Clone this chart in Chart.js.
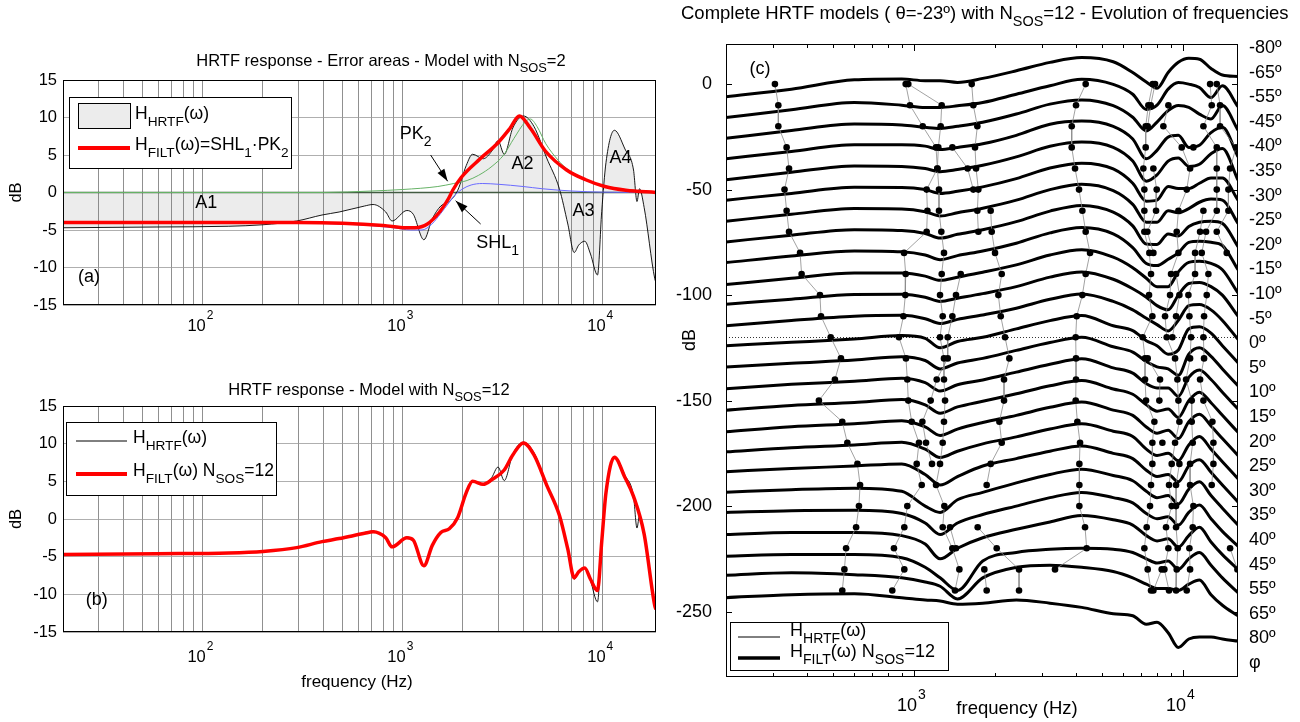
<!DOCTYPE html>
<html>
<head>
<meta charset="utf-8">
<title>HRTF models</title>
<script src="https://cdn.jsdelivr.net/npm/chart.js@4.4.1/dist/chart.umd.min.js"></script>
<style>
  html, body { margin: 0; padding: 0; background: #fff; }
  #wrap { position: relative; width: 1300px; height: 722px; overflow: hidden; }
  canvas { position: absolute; left: 0; top: 0; }
</style>
</head>
<body>
<div id="wrap">
  <canvas id="chartA" width="1300" height="722"></canvas>
  <canvas id="chartB" width="1300" height="722"></canvas>
  <canvas id="chartC" width="1300" height="722"></canvas>
</div>
<script>
const FONT = "'Liberation Sans', Arial, Helvetica, sans-serif";

// ---------- panels (a) and (b): measured HRTF and filter models ----------
const hrtfFreq = [20, 59, 135, 200, 295, 395, 481, 645, 711, 823, 885, 1050, 1130, 1277, 1407, 1552, 1711, 1886, 2080, 2238,
  2529, 2788, 2999, 3222, 3555, 4018, 4539, 5252, 6080, 6700, 7211, 7600, 8147, 8700, 9431, 9903, 10400, 11460, 12940, 14280,
  14860, 15300, 16140, 18240, 18500];
const hrtfDb = [-4.7, -4.6, -4.5, -4.3, -3.8, -3.0, -2.6, -1.8, -1.6, -2.6, -3.8, -2.4, -2.9, -6.3, -3.5, -1.8, -1.2, 0.3, 3.6, 5.1,
  4.5, 5.5, 6.9, 5.1, 8.6, 10.2, 8.8, 4.6, 0.5, -4.2, -8, -7, -6.5, -8.2, -11, -2.5, 4, 8.3, 5.8, 3,
  -1.2, 0.5, -2, -11.5, -12];

// (a) H_FILT = SHL1 * PK2, and its two sections
const filtAFreq = [20, 300, 500, 800, 1042, 1150, 1330, 1540, 1696, 1780, 1962, 2442, 2966, 3430, 3835, 4373, 5185, 6610, 8235, 10250, 13070, 18500];
const filtADb = [-4, -4.0, -4.1, -4.4, -4.7, -4.7, -4.2, -2.5, -0.8, 0.3, 2.0, 4.5, 6.5, 8.5, 10.2, 8.5, 5.5, 3.0, 1.7, 0.8, 0.3, 0];
const pkFreq = [20, 400, 700, 1000, 1500, 1800, 2100, 2400, 2800, 3200, 3600, 4100, 4350, 4700, 5200, 6000, 6600, 8200, 10000, 13000, 18500];
const pkDb = [0, 0, 0.2, 0.4, 0.8, 1.2, 1.6, 2.3, 3.5, 5, 7.2, 9.4, 9.8, 8.8, 6.5, 4.3, 3.2, 1.8, 0.9, 0.4, 0.1];
const shlFreq = [20, 300, 600, 900, 1100, 1250, 1400, 1550, 1700, 1850, 2000, 2200, 2500, 3000, 4000, 5000, 7000, 10000, 18500];
const shlDb = [-4.05, -4.1, -4.3, -4.7, -5.0, -5.0, -4.2, -2.8, -1.4, -0.2, 0.5, 1.0, 1.2, 1.1, 0.8, 0.5, 0.2, 0.05, 0];

// (b) H_FILT with N_SOS = 12
const filtBFreq = [20, 59, 135, 200, 295, 395, 481, 645, 711, 823, 885, 1050, 1130, 1277, 1407, 1552, 1711, 1886, 2080, 2238,
  2529, 2788, 3222, 3555, 4018, 4539, 5252, 6080, 6700, 7211, 7600, 8147, 8700, 9431, 9903, 10400, 11460, 12940, 14280, 16140,
  18240, 18500];
const filtBDb = [-4.7, -4.6, -4.5, -4.3, -3.8, -3.0, -2.6, -1.9, -1.7, -2.5, -3.7, -2.5, -2.8, -6.2, -3.5, -1.8, -1.3, 0.2, 3.5, 5.0,
  4.6, 5.2, 6.5, 8.5, 10.1, 8.5, 4.5, 0.5, -4, -7.8, -7, -6.5, -8, -9.5, -3, 3.5, 8.2, 5.5, 3, -2,
  -11.5, -12];

const abGrid = [20, 30, 40, 50, 60, 70, 80, 90, 100, 200, 300, 400, 500, 600, 700, 800, 900, 1000, 2000, 3000, 4000, 5000, 6000, 7000, 8000, 9000, 10000];
const abDecades = [100, 1000, 10000];
const abDecadeExp = ['2', '3', '4'];
const abYTicks = [15, 10, 5, 0, -5, -10, -15];

// ---------- panel (c): 25 elevations, offset by 10 dB each ----------
const cFreq = [200, 350, 600, 900, 1100, 1250, 1450, 1800, 2400, 3200, 4200, 5500, 6500, 7300, 8000, 8800, 9600, 10500, 11500, 12700, 14000, 16000];
const c00 = [-6, -2.4, 2, 2.4, 1.6, 1.6, 0.8, 2.7, 6.3, 10.3, 12.6, 10.6, 5.5, 1, -2, 5.5, 10.3, 12.2, 11.8, 7.4, 4.3, 3.6];
const c01 = [-15.8, -12.2, -8.7, -10, -11.1, -11.1, -10.3, -8.7, -4.8, -0.8, 2.3, -0.1, -4.8, -12, -10, -2.4, 0.7, 0, -1.6, -6.4, -0.8, -10.7];
const c02 = [-25.7, -22, -18.9, -19.4, -20.5, -21, -20, -18.1, -14.2, -9.5, -7.5, -10.2, -15.7, -22.2, -18, -12.6, -10.2, -11, -14.2, -16.5, -10.2, -21.8];
const c03 = [-35.4, -31.9, -28.7, -28.7, -29.4, -31, -30, -28.3, -24.3, -19, -17.5, -20, -26, -35.4, -31.4, -25.1, -24.3, -30, -29, -23, -20.5, -34.4];
const c04 = [-45.3, -41.8, -38.8, -39, -40, -41.5, -40.5, -38.5, -34.5, -29.5, -27.5, -30, -36.5, -46, -43, -36.5, -35, -39, -38, -33, -30.5, -45.5];
const c05 = [-55, -51.8, -48.9, -49, -50, -51.8, -50.8, -48.7, -44.8, -39.8, -37.5, -40.2, -47, -55.5, -55, -48.5, -49.5, -49.5, -47, -44.5, -44.5, -55];
const c06 = [-65, -61.7, -59, -59.2, -60.5, -62.5, -61, -58.8, -55, -50, -47.5, -50.5, -57, -65.5, -65.5, -60, -61, -59, -56, -54.5, -55, -66];
const c07 = [-74.8, -71.6, -69, -69.4, -70.8, -73, -71.2, -69, -65.2, -60.2, -57.5, -60.7, -67.2, -75.8, -76, -71, -72, -67.5, -65.5, -65, -66, -77];
const c08 = [-84.6, -81.5, -79.1, -79.5, -81, -83.2, -81.3, -79.1, -75.4, -70.5, -68, -71, -77.5, -85, -86, -83, -80, -75, -74.5, -75, -76.5, -88];
const c09 = [-95, -92, -89.5, -89.5, -91, -93, -91.5, -89.2, -85.7, -81, -78.5, -82, -87, -92, -96, -96, -89, -84.5, -84, -85, -88, -99];
const c10 = [-104.3, -102, -99.7, -99.6, -101, -103, -101.5, -99.3, -96, -91.5, -89, -92.5, -97, -101, -105, -107, -100, -94.5, -94, -96, -100, -110];
const c11 = [-114.5, -112, -110, -109.6, -111.2, -113.5, -111.5, -109.4, -106.2, -102, -99.5, -103, -107, -111, -114, -117, -112, -105, -104.5, -107, -112, -121];
const c12 = [-124, -122.4, -120.8, -119.2, -120.5, -125, -122, -120, -116, -112.1, -109.7, -114.5, -116.8, -121.6, -124, -128, -126, -116, -115, -118, -124, -132];
const c13 = [-134.1, -132.3, -130.8, -129.2, -131, -135, -132.2, -130, -126.2, -122.5, -120, -124.5, -127, -131.5, -134, -135, -138, -128, -125, -129, -135, -143];
const c14 = [-144.4, -142.3, -140.8, -139.4, -141.5, -145.5, -142.5, -140.2, -136.5, -132.8, -130.2, -134.5, -137, -142, -144, -144, -148, -139, -135.5, -140, -146, -154];
const c15 = [-154.6, -152.3, -150.9, -149.5, -152, -156, -153, -150.3, -146.8, -143, -140.5, -144.5, -147, -152, -155, -154, -158, -150, -146, -151, -157, -165];
const c16 = [-164.8, -162.4, -161, -159.6, -162.5, -166.5, -163.5, -160.4, -157, -153.2, -150.7, -154.5, -157, -162.5, -165.5, -164, -168, -160, -156.5, -162, -168, -176];
const c17 = [-174.3, -172.3, -171, -169.7, -173, -177, -174, -170.5, -167.2, -163.5, -161, -164.5, -167, -173, -176, -175, -178.5, -171, -167, -173, -179, -187];
const c18 = [-183.7, -182.2, -181, -180, -185, -190, -186, -181, -177.5, -174, -171.5, -175, -177.5, -183, -186, -185, -188.5, -181, -178, -184, -190, -198];
const c19 = [-193.4, -192.2, -191.5, -193, -200, -203, -197, -193.5, -189, -185, -182.5, -185.5, -188, -193, -196, -195, -199, -192, -188.5, -195, -201, -209];
const c20 = [-203, -202.2, -202, -203.5, -208, -213.5, -208, -204, -200, -196, -193.5, -196, -198.5, -203.5, -206, -205, -209, -203, -199.5, -206, -212, -219];
const c21 = [-213.5, -212.5, -212.5, -214, -218, -225, -220, -215, -211, -207.5, -204.5, -206.5, -209, -214, -216.5, -215.5, -219.5, -214, -210, -217, -223, -230];
const c22 = [-223.8, -223, -223, -224.5, -229, -234, -240, -226, -222, -220.5, -220, -220.5, -222, -225, -227, -226, -230, -225, -222, -228, -234, -241];
const c23 = [-232.8, -231.6, -232.5, -234, -236, -238, -244, -234, -229, -228, -229, -231, -234, -237, -239, -239, -240, -237, -235, -242, -247, -252];
const c24 = [-243.4, -242, -241.5, -243.4, -244.5, -245, -246.5, -246, -244.5, -246, -248, -251, -252, -256, -255, -260, -267, -263, -262, -262, -263, -264];
const filtCurves = [c00, c01, c02, c03, c04, c05, c06, c07, c08, c09, c10, c11, c12, c13, c14, c15, c16, c17, c18, c19, c20, c21, c22, c23, c24];

// pole/zero frequency tracks: one frequency per elevation row (null = no marker)
const rowDb = [0, -10, -20, -30, -40, -50, -60, -70, -80, -90, -100, -110, -120, -130, -140, -150, -160, -170, -180, -190, -200, -210, -220, -230, -240];
const trackA = [304, 313, 313, 336, 343, 330, 336, 343, 377, 382, 447, 451, 490, 535, 508, 443, 541, 565, 616, 630, 624, 609, 559, 551, 541];
const trackB1 = [931, 966, 1077, 1207, 1221, 1114, 1121, 1114, 918, 931, 928, 913, 879, 933, 944, 952, 980, 1043, 1023, 1068, 944, 920, 842, 920, 830];
const trackB2 = [952, 1267, 1256, 1231, 1221, 1238, 1238, 1263, 1292, 1267, 1249, 1278, 1249, 1292, 1292, 1304, 1292, 1278, 1249, 1207, 1296, 1278, 1388, 1474, 1420];
const trackB3 = [null, null, null, 1388, 1582, 1661, null, null, null, 1491, 1432, 1388, 1334, 1334, 1214, 1153, 1074, 1108, 1166, null, null, 1361, 1432, null, null];
const trackC1 = [1638, 1661, 1719, 1685, 1700, 1734, 1719, 1734, null, null, null, null, null, null, null, null, null, null, null, null, null, null, null, null, null];
const trackC2 = [null, null, null, null, null, null, 1927, 1944, 2000, 2118, 2058, 2100, 2179, 2261, 2160, 2160, 2076, 2118, 1927, 1862, null, 1724, 2029, 2456, 2456];
const trackC3 = [null, null, null, null, null, null, null, null, null, null, null, null, null, null, null, null, null, null, null, null, null, null, null, 1825, 1862];
const trackD = [4345, 4000, 3855, 3855, 3966, 4104, 4223, 4345, 4510, 4345, 4223, 4023, 3989, 4000, 4000, 3989, 4046, 4140, 4116, 4116, 4116, 4321, 4382, 3342, null];
const trackE1 = [7711, 7430, 7262, 7262, 7117, 7179, 7179, 7179, 7493, 7601, 7472, 7689, 7077, 7220, 7220, 7282, 7822, 7689, 7689, 7601, 7536, 7324, 7179, 7387, 7601];
const trackE2 = [7866, 7580, 7387, null, 7755, 7979, 7934, 7366, 7755, null, null, null, null, 7387, 8210, 8163, null, 8376, null, null, null, null, null, 8328, 7755];
const trackF1 = [null, 8818, 8447, 9886, 10617, 10318, 9608, 9471, 9608, 9021, 8944, 8570, 8693, 9337, 9525, 9608, 9690, 9337, 9073, 8866, 9073, 8643, 8818, 8520, 8866];
const trackF2 = [null, null, null, null, null, null, null, null, null, 9417, 9690, 9417, 9125, null, null, null, null, null, 9690, 9417, 9417, 9417, 9552, 9471, 9417];
const trackG = [null, null, null, 10923, null, null, 11900, 11566, 11080, 11080, 10466, 10556, 10708, 10617, 10259, 10769, 10769, 10862, 10617, 10617, 10923, 10862, 10556, 10617, 10318];
const trackH = [12599, 12780, 11900, 13340, 13340, 13340, 13340, 12174, 11732, 12420, 12245, 11968, 11900, 11968, 11566, 11900, 12853, 12964, 12964, 12780, null, null, null, null, null];
const trackI = [13340, 13726, 13726, 15740, 14952, 14740, 14740, 13340, 14532, null, null, null, null, null, null, null, null, null, null, null, null, null, 14952, 15922, null];
const tracks = [trackA, trackB1, trackB2, trackB3, trackC1, trackC2, trackC3, trackD, trackE1, trackE2, trackF1, trackF2, trackG, trackH, trackI];

const elevLabels = ['-80º', '-65º', '-55º', '-45º', '-40º', '-35º', '-30º', '-25º', '-20º', '-15º', '-10º', '-5º', '0º',
  '5º', '10º', '15º', '20º', '25º', '30º', '35º', '40º', '45º', '55º', '65º', '80º', 'φ'];
const cGrid = [200, 300, 400, 500, 600, 700, 800, 900, 1000, 2000, 3000, 4000, 5000, 6000, 7000, 8000, 9000, 10000];
const cDecades = [1000, 10000];
const cDecadeExp = ['3', '4'];
const cYTicks = [0, -50, -100, -150, -200, -250];

// ---------- helpers ----------
const pts = (xs, ys) => xs.map((x, i) => ({ x, y: ys[i] }));

function richText(ctx, x, y, parts, size, align) {
  let w = 0;
  for (const p of parts) {
    ctx.font = (p.sub || p.sup ? size * 0.78 : size) + 'px ' + FONT;
    w += ctx.measureText(p.t).width;
  }
  let cx = align === 'center' ? x - w / 2 : align === 'right' ? x - w : x;
  ctx.textAlign = 'left';
  ctx.textBaseline = 'middle';
  for (const p of parts) {
    const s = p.sub || p.sup ? size * 0.78 : size;
    ctx.font = s + 'px ' + FONT;
    const dy = p.sub ? size * 0.45 : p.sup ? -size * 0.5 : 0;
    ctx.fillText(p.t, cx, y + dy);
    cx += ctx.measureText(p.t).width;
  }
}

function decadeLabel(ctx, tickX, y, exp, size) {
  ctx.font = size + 'px ' + FONT;
  ctx.textAlign = 'right';
  ctx.textBaseline = 'middle';
  ctx.fillText('10', tickX + 3, y);
  ctx.font = Math.round(size * 0.75) + 'px ' + FONT;
  ctx.textAlign = 'left';
  ctx.fillText(exp, tickX + 4, y - size * 0.6);
}

function arrow(ctx, x1, y1, x2, y2) {
  const ang = Math.atan2(y2 - y1, x2 - x1);
  ctx.beginPath();
  ctx.moveTo(x1, y1);
  ctx.lineTo(x2, y2);
  ctx.stroke();
  ctx.beginPath();
  ctx.moveTo(x2, y2);
  ctx.lineTo(x2 - 13 * Math.cos(ang - 0.32), y2 - 13 * Math.sin(ang - 0.32));
  ctx.lineTo(x2 - 13 * Math.cos(ang + 0.32), y2 - 13 * Math.sin(ang + 0.32));
  ctx.closePath();
  ctx.fill();
}

function frameAB(chart, cfg) {
  const { ctx, chartArea: a, scales: { x, y } } = chart;
  ctx.save();
  ctx.strokeStyle = '#000';
  ctx.lineWidth = 1;
  ctx.strokeRect(a.left + 0.5, a.top + 0.5, a.right - a.left - 1, a.bottom - a.top - 1);
  ctx.fillStyle = '#000';
  ctx.font = '16.5px ' + FONT;
  ctx.textAlign = 'right';
  ctx.textBaseline = 'middle';
  abYTicks.forEach(v => ctx.fillText(String(v), a.left - 6, y.getPixelForValue(v)));
  abDecades.forEach((d, i) => decadeLabel(ctx, x.getPixelForValue(d), cfg.tickY, abDecadeExp[i], 16.5));
  ctx.save();
  ctx.translate(16, (a.top + a.bottom) / 2);
  ctx.rotate(-Math.PI / 2);
  ctx.font = '16.5px ' + FONT;
  ctx.textAlign = 'center';
  ctx.fillText('dB', 0, 0);
  ctx.restore();
  richText(ctx, cfg.titleX, cfg.titleY, cfg.title, 16.5, 'center');
  ctx.font = '18px ' + FONT;
  ctx.textAlign = 'center';
  ctx.fillText(cfg.tag, x.getPixelForValue(cfg.tagAt[0]), y.getPixelForValue(cfg.tagAt[1]));
  ctx.restore();
}

// ---------- chart (a) ----------
const decorA = {
  id: 'decorA',
  beforeDatasetsDraw(chart) {
    const { ctx, chartArea: a, scales: { y } } = chart;
    const y0 = y.getPixelForValue(0);
    ctx.save();
    ctx.strokeStyle = '#3f5a3f';
    ctx.lineWidth = 1.6;
    ctx.beginPath();
    ctx.moveTo(a.left, y0);
    ctx.lineTo(a.right, y0);
    ctx.stroke();
    ctx.restore();
  },
  afterDraw(chart) {
    const { ctx, scales: { x, y } } = chart;
    frameAB(chart, {
      tickY: 326, titleX: 381, titleY: 61, tag: '(a)', tagAt: [27, -11.3],
      title: [{ t: 'HRTF response - Error areas - Model with N' }, { t: 'SOS', sub: true }, { t: '=2' }]
    });
    ctx.save();
    ctx.fillStyle = '#000';
    ctx.strokeStyle = '#000';
    ctx.lineWidth = 1;
    ctx.font = '18px ' + FONT;
    ctx.textAlign = 'center';
    ctx.textBaseline = 'middle';
    [['A1', 104, -1.4], ['A2', 3980, 3.8], ['A3', 8035, -2.5], ['A4', 12300, 4.6]].forEach(([t, f, v]) =>
      ctx.fillText(t, x.getPixelForValue(f), y.getPixelForValue(v)));
    richText(ctx, x.getPixelForValue(1161), y.getPixelForValue(7.8), [{ t: 'PK' }, { t: '2', sub: true }], 18, 'center');
    richText(ctx, x.getPixelForValue(2985), y.getPixelForValue(-6.8), [{ t: 'SHL' }, { t: '1', sub: true }], 18, 'center');
    arrow(ctx, x.getPixelForValue(1380), y.getPixelForValue(5.0), x.getPixelForValue(1679), y.getPixelForValue(1.5));
    arrow(ctx, x.getPixelForValue(2455), y.getPixelForValue(-4.2), x.getPixelForValue(1841), y.getPixelForValue(-1.1));
    // legend
    ctx.fillStyle = '#fff';
    ctx.fillRect(69, 97, 222, 71);
    ctx.strokeRect(69.5, 97.5, 222, 71);
    ctx.fillStyle = '#ececec';
    ctx.fillRect(78, 103, 52, 25);
    ctx.strokeRect(78.5, 103.5, 52, 25);
    ctx.strokeStyle = '#ff0000';
    ctx.lineWidth = 4;
    ctx.beginPath();
    ctx.moveTo(78, 148);
    ctx.lineTo(130, 148);
    ctx.stroke();
    ctx.fillStyle = '#000';
    richText(ctx, 135, 114, [{ t: 'H' }, { t: 'HRTF', sub: true }, { t: '(ω)' }], 17.5, 'left');
    richText(ctx, 135, 145, [{ t: 'H' }, { t: 'FILT', sub: true }, { t: '(ω)=SHL' }, { t: '1', sub: true }, { t: '·PK' }, { t: '2', sub: true }], 17.5, 'left');
    ctx.restore();
  }
};

const abScales = () => ({
  x: {
    type: 'logarithmic', min: 20, max: 18500,
    ticks: { display: false },
    grid: { color: '#737373', lineWidth: 0.8, drawTicks: false },
    border: { display: false },
    afterBuildTicks: ax => { ax.ticks = abGrid.map(v => ({ value: v })); }
  },
  y: {
    min: -15, max: 15,
    ticks: { display: false, stepSize: 5 },
    grid: { color: '#9a9a9a', lineWidth: 0.8, drawTicks: false },
    border: { display: false }
  }
});

new Chart(document.getElementById('chartA'), {
  type: 'line',
  data: {
    datasets: [
      { data: pts(filtAFreq, filtADb), borderColor: '#ff0000', borderWidth: 3.5, order: 0 },
      { data: pts(shlFreq, shlDb), borderColor: '#6a6aff', borderWidth: 1, order: 1 },
      { data: pts(pkFreq, pkDb), borderColor: '#66b266', borderWidth: 1, order: 2 },
      { data: pts(hrtfFreq, hrtfDb), borderColor: '#000', borderWidth: 0.9, backgroundColor: 'rgba(110,110,110,0.13)', fill: { value: 0 }, order: 3 }
    ]
  },
  options: {
    responsive: false, animation: false,
    layout: { padding: { left: 63, top: 80, right: 1300 - 656, bottom: 722 - 305 } },
    elements: { point: { radius: 0 }, line: { cubicInterpolationMode: 'monotone' } },
    plugins: { legend: { display: false }, tooltip: { enabled: false } },
    scales: abScales()
  },
  plugins: [decorA]
});

// ---------- chart (b) ----------
const decorB = {
  id: 'decorB',
  afterDraw(chart) {
    const { ctx } = chart;
    frameAB(chart, {
      tickY: 657, titleX: 369, titleY: 390, tag: '(b)', tagAt: [29.5, -10.8],
      title: [{ t: 'HRTF response - Model with N' }, { t: 'SOS', sub: true }, { t: '=12' }]
    });
    ctx.save();
    ctx.fillStyle = '#000';
    ctx.font = '17px ' + FONT;
    ctx.textAlign = 'center';
    ctx.textBaseline = 'middle';
    ctx.fillText('frequency (Hz)', 357, 682);
    ctx.fillStyle = '#fff';
    ctx.strokeStyle = '#000';
    ctx.lineWidth = 1;
    ctx.fillRect(66, 422, 210, 73);
    ctx.strokeRect(66.5, 422.5, 210, 73);
    ctx.beginPath();
    ctx.moveTo(76, 441);
    ctx.lineTo(127, 441);
    ctx.stroke();
    ctx.strokeStyle = '#ff0000';
    ctx.lineWidth = 4;
    ctx.beginPath();
    ctx.moveTo(76, 474);
    ctx.lineTo(127, 474);
    ctx.stroke();
    ctx.fillStyle = '#000';
    richText(ctx, 133, 438, [{ t: 'H' }, { t: 'HRTF', sub: true }, { t: '(ω)' }], 17.5, 'left');
    richText(ctx, 133, 471, [{ t: 'H' }, { t: 'FILT', sub: true }, { t: '(ω) N' }, { t: 'SOS', sub: true }, { t: '=12' }], 17.5, 'left');
    ctx.restore();
  }
};

new Chart(document.getElementById('chartB'), {
  type: 'line',
  data: {
    datasets: [
      { data: pts(filtBFreq, filtBDb), borderColor: '#ff0000', borderWidth: 3.5, order: 0 },
      { data: pts(hrtfFreq, hrtfDb), borderColor: '#000', borderWidth: 0.9, order: 1 }
    ]
  },
  options: {
    responsive: false, animation: false,
    layout: { padding: { left: 63, top: 406, right: 1300 - 656, bottom: 722 - 632 } },
    elements: { point: { radius: 0 }, line: { cubicInterpolationMode: 'monotone' } },
    plugins: { legend: { display: false }, tooltip: { enabled: false } },
    scales: abScales()
  },
  plugins: [decorB]
});

// ---------- chart (c) ----------
const decorC = {
  id: 'decorC',
  beforeDatasetsDraw(chart) {
    const { ctx, chartArea: a, scales: { y } } = chart;
    const y0 = Math.round(y.getPixelForValue(-120)) + 0.5;
    ctx.save();
    ctx.strokeStyle = '#000';
    ctx.lineWidth = 0.8;
    ctx.setLineDash([1, 2]);
    ctx.beginPath();
    ctx.moveTo(a.left, y0);
    ctx.lineTo(a.right, y0);
    ctx.stroke();
    ctx.restore();
  },
  afterDraw(chart) {
    const { ctx, chartArea: a, scales: { x, y } } = chart;
    ctx.save();
    ctx.strokeStyle = '#000';
    ctx.fillStyle = '#000';
    ctx.lineWidth = 1;
    ctx.strokeRect(a.left + 0.5, a.top + 0.5, a.right - a.left - 1, a.bottom - a.top - 1);
    ctx.beginPath();
    cGrid.forEach(f => {
      const px = Math.round(x.getPixelForValue(f)) + 0.5;
      const len = cDecades.includes(f) ? 7 : 4;
      ctx.moveTo(px, a.top); ctx.lineTo(px, a.top + len);
      ctx.moveTo(px, a.bottom); ctx.lineTo(px, a.bottom - len);
    });
    cYTicks.forEach(v => {
      const py = Math.round(y.getPixelForValue(v)) + 0.5;
      ctx.moveTo(a.left, py); ctx.lineTo(a.left + 6, py);
      ctx.moveTo(a.right, py); ctx.lineTo(a.right - 6, py);
    });
    ctx.stroke();
    ctx.font = '18px ' + FONT;
    ctx.textAlign = 'right';
    ctx.textBaseline = 'middle';
    cYTicks.forEach(v => ctx.fillText(String(v), a.left - 14, y.getPixelForValue(v)));
    cDecades.forEach((d, i) => decadeLabel(ctx, x.getPixelForValue(d), 706, cDecadeExp[i], 18));
    ctx.font = '18.5px ' + FONT;
    ctx.textAlign = 'center';
    ctx.fillText('frequency (Hz)', 1017, 709);
    ctx.save();
    ctx.translate(690, 340);
    ctx.rotate(-Math.PI / 2);
    ctx.font = '18px ' + FONT;
    ctx.fillText('dB', 0, 0);
    ctx.restore();
    ctx.font = '18px ' + FONT;
    ctx.textAlign = 'left';
    elevLabels.forEach((t, i) => ctx.fillText(t, 1249, 48 + 24.6 * i));
    ctx.textAlign = 'center';
    ctx.fillText('(c)', 760, 69);
    richText(ctx, 681, 14, [{ t: 'Complete HRTF models ( θ=-23º) with N' }, { t: 'SOS', sub: true }, { t: '=12 - Evolution of frequencies' }], 18.5, 'left');
    // legend
    ctx.fillStyle = '#fff';
    ctx.fillRect(730, 622, 218, 48);
    ctx.strokeRect(730.5, 622.5, 218, 48);
    ctx.lineWidth = 1;
    ctx.beginPath();
    ctx.moveTo(738, 637);
    ctx.lineTo(780, 637);
    ctx.stroke();
    ctx.lineWidth = 3.5;
    ctx.beginPath();
    ctx.moveTo(738, 658);
    ctx.lineTo(780, 658);
    ctx.stroke();
    ctx.fillStyle = '#000';
    richText(ctx, 790, 631, [{ t: 'H' }, { t: 'HRTF', sub: true }, { t: '(ω)' }], 18, 'left');
    richText(ctx, 790, 652, [{ t: 'H' }, { t: 'FILT', sub: true }, { t: '(ω) N' }, { t: 'SOS', sub: true }, { t: '=12' }], 18, 'left');
    ctx.restore();
  }
};

const cDatasets = [];
tracks.forEach(tr => {
  cDatasets.push({
    data: tr.map((f, i) => (f === null ? { x: cFreq[0], y: null } : { x: f, y: rowDb[i] })),
    borderColor: '#8a8a8a', borderWidth: 0.8, spanGaps: false,
    pointRadius: 3.3, pointBackgroundColor: '#000', pointBorderWidth: 0,
    cubicInterpolationMode: 'default', tension: 0, order: 0
  });
});
filtCurves.forEach(c => {
  cDatasets.push({
    data: pts(cFreq, c), borderColor: '#000', borderWidth: 3,
    pointRadius: 0, cubicInterpolationMode: 'monotone', order: 1
  });
});

new Chart(document.getElementById('chartC'), {
  type: 'line',
  data: { datasets: cDatasets },
  options: {
    responsive: false, animation: false,
    layout: { padding: { left: 726, top: 44, right: 1300 - 1238, bottom: 722 - 677 } },
    plugins: { legend: { display: false }, tooltip: { enabled: false } },
    scales: {
      x: { type: 'logarithmic', min: 200, max: 16000, display: false },
      y: { min: -281, max: 19, display: false }
    }
  },
  plugins: [decorC]
});
</script>
</body>
</html>
